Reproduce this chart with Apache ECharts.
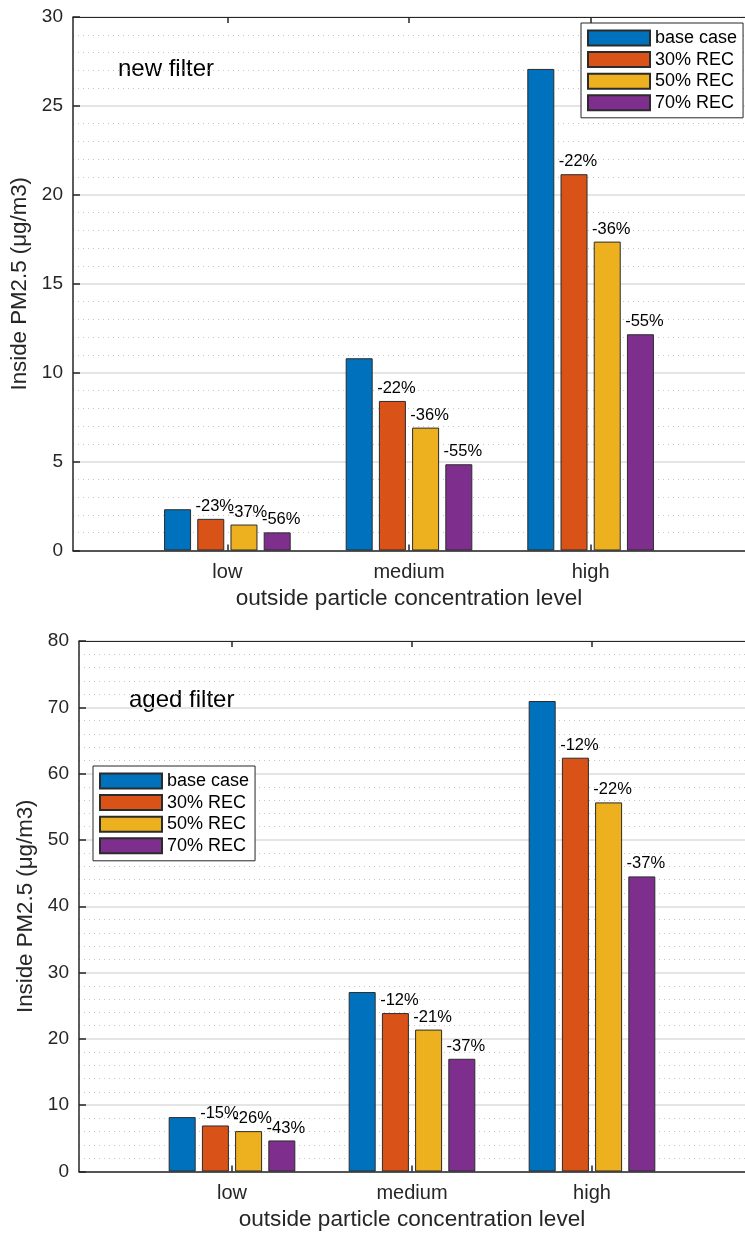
<!DOCTYPE html>
<html>
<head>
<meta charset="utf-8">
<title>Inside PM2.5 by outside concentration level</title>
<script src="https://cdn.jsdelivr.net/npm/echarts@6/dist/echarts.min.js"></script>
<style>
  html, body { margin: 0; padding: 0; background: #fff; }
  #chart { width: 745px; height: 1233px; }
</style>
</head>
<body>
<div id="chart"></div>
<script>
// Outside concentration levels (x categories)
const categories = ['low', 'medium', 'high'];
const seriesNames = ['base case', '30% REC', '50% REC', '70% REC'];
const seriesColors = ['#0072BD', '#D95319', '#EDB120', '#7E2F8E'];

// New filter: inside PM2.5 (µg/m3) per scenario
const newBase  = [2.32, 10.81, 27.08];
const new30    = [1.78, 8.41, 21.16];
const new50    = [1.46, 6.91, 17.37];
const new70    = [1.02, 4.85, 12.16];

// Aged filter: inside PM2.5 (µg/m3) per scenario
const agedBase = [8.2, 27.06, 70.95];
const aged30   = [6.94, 23.89, 62.4];
const aged50   = [6.09, 21.4, 55.66];
const aged70   = [4.68, 17.0, 44.5];

const newTicks  = { max: 30, interval: 5, minorSplit: 5 };
const agedTicks = { max: 80, interval: 10, minorSplit: 5 };

const FONT = "'Liberation Sans', Arial, Helvetica, sans-serif";
const AXIS_COLOR = '#262626';
const catPositions = categories.map((_, i) => i + 1);

function xAxes(gridIndex) {
  return [
    {
      type: 'value', gridIndex, position: 'bottom',
      min: 0.15, max: 3.85,
      axisLine: { show: true, onZero: false, lineStyle: { color: AXIS_COLOR, width: 1.5 } },
      axisTick: { show: true, inside: true, length: 6, customValues: catPositions,
                  lineStyle: { color: AXIS_COLOR, width: 1.5 } },
      axisLabel: { customValues: catPositions, formatter: v => categories[Math.round(v) - 1] || '',
                   fontSize: 20, color: AXIS_COLOR, fontFamily: FONT, margin: 12 },
      splitLine: { show: false },
      name: 'outside particle concentration level',
      nameLocation: 'middle', nameGap: 37,
      nameTextStyle: { fontSize: 22.6, color: AXIS_COLOR, fontFamily: FONT }
    },
    {
      // top border of the box with inward category ticks
      type: 'value', gridIndex, position: 'top',
      min: 0.15, max: 3.85,
      axisLine: { show: true, onZero: false, lineStyle: { color: AXIS_COLOR, width: 1.2 } },
      axisTick: { show: true, inside: true, length: 6, customValues: catPositions,
                  lineStyle: { color: AXIS_COLOR, width: 1.5 } },
      axisLabel: { show: false },
      splitLine: { show: false }
    }
  ];
}

function yAxis(gridIndex, t) {
  return {
    type: 'value', gridIndex, min: 0, max: t.max, interval: t.interval,
    axisLine: { show: true, lineStyle: { color: AXIS_COLOR, width: 1.5 } },
    axisTick: { show: true, inside: true, length: 7, lineStyle: { color: AXIS_COLOR, width: 1.5 } },
    axisLabel: { fontSize: 19, color: AXIS_COLOR, fontFamily: FONT, margin: 10 },
    splitLine: { show: true, lineStyle: { color: '#dcdcdc', width: 1.5 } },
    minorTick: { show: false, splitNumber: t.minorSplit },
    minorSplitLine: { show: true, lineStyle: { color: '#c4c4c4', width: 1, type: [1, 4] } },
    name: 'Inside PM2.5 (μg/m3)',
    nameLocation: 'middle', nameGap: 38,
    nameTextStyle: { fontSize: 22.3, color: AXIS_COLOR, fontFamily: FONT }
  };
}

function barSeries(gridIndex, groups) {
  const base = groups[0];
  return groups.map((vals, s) => ({
    type: 'bar',
    name: seriesNames[s],
    xAxisIndex: gridIndex * 2,
    yAxisIndex: gridIndex,
    barWidth: 27,
    barGap: '23%',
    data: vals.map((v, i) => [catPositions[i], v]),
    itemStyle: { color: seriesColors[s], borderColor: '#2b2b2b', borderWidth: 1 },
    label: {
      show: s > 0,
      position: 'top', distance: 4, offset: [4, 0],
      fontSize: 16.5, color: '#000', fontFamily: FONT,
      formatter: p => Math.round((vals[p.dataIndex] / base[p.dataIndex] - 1) * 100) + '%'
    }
  }));
}

function legend(left, top) {
  return {
    data: seriesNames,
    orient: 'vertical',
    left, top,
    icon: 'rect',
    itemWidth: 62, itemHeight: 15, itemGap: 3.6,
    padding: [6, 6, 6, 6],
    backgroundColor: '#fff',
    borderColor: AXIS_COLOR, borderWidth: 1,
    selectedMode: false,
    textStyle: { fontSize: 18, color: '#000', fontFamily: FONT }
  };
}

const chart = echarts.init(document.getElementById('chart'), null, { renderer: 'canvas' });
chart.setOption({
  backgroundColor: '#fff',
  animation: false,
  textStyle: { fontFamily: FONT },
  grid: [
    { left: 73, top: 17, width: 678, height: 533.5 },
    { left: 79, top: 641, width: 678, height: 530.5 }
  ],
  xAxis: [...xAxes(0), ...xAxes(1)],
  yAxis: [yAxis(0, newTicks), yAxis(1, agedTicks)],
  legend: [legend(581, 23), legend(93, 766)],
  graphic: [
    { type: 'text', left: 118, top: 57, style: { text: 'new filter', font: `24px ${FONT}`, fill: '#000' } },
    { type: 'text', left: 129, top: 688, style: { text: 'aged filter', font: `24px ${FONT}`, fill: '#000' } }
  ],
  series: [
    ...barSeries(0, [newBase, new30, new50, new70]),
    ...barSeries(1, [agedBase, aged30, aged50, aged70])
  ]
});
</script>
</body>
</html>
